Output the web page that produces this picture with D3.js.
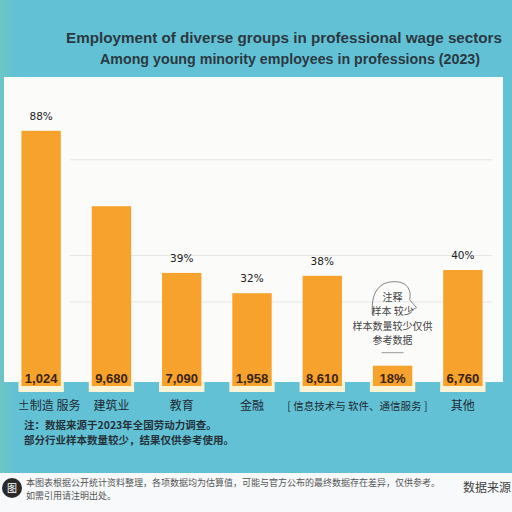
<!DOCTYPE html>
<html>
<head>
<meta charset="utf-8">
<script src="https://cdn.jsdelivr.net/npm/d3@7"></script>
<style>
  body { margin: 0; background: #63c1d6; }
  svg { display: block; }
</style>
</head>
<body>
<svg id="chart" width="512" height="512"></svg>
<script>
// chart data
const categories = ["制造 服务", "建筑业", "教育", "金融", "信息技术", "通信服务", "其他"];
const values = [88, 62, 39, 32, 38, 7, 40];
const topLabels = ["88%", "", "39%", "32%", "38%", "", "40%"];
const baseLabels = ["1,024", "9,680", "7,090", "1,958", "8,610", "18%", "6,760"];
// x-axis labels: the 5th one spans the 5th and 6th bars
const xLabels = ["±制造 服务", "建筑业", "教育", "金融", "[ 信息技术与 软件、通信服务 ]", "", "其他"];
const xLabelSpan = [1, 1, 1, 1, 2, 0, 1];
const gridValues = [29, 45, 78];
const titleLines = ["Employment of diverse groups in professional wage sectors", "Among young minority employees in professions (2023)"];
const noteLines = ["注：数据来源于2023年全国劳动力调查。", "部分行业样本数量较少，结果仅供参考使用。"];
const calloutLines = ["注释", "样本 较少", "样本数量较少仅供", "参考数据"];
const footerLines = ["本图表根据公开统计资料整理，各项数据均为估算值，可能与官方公布的最终数据存在差异，仅供参考。", "如需引用请注明出处。"];
const footerRight = "数据来源";

const svg = d3.select("#chart");
const W = 512, H = 512;

// background with a slight green tint on the left
const defs = svg.append("defs");
const bg = defs.append("linearGradient").attr("id", "bg").attr("x1", 0).attr("x2", 1).attr("y1", 0).attr("y2", 0);
bg.append("stop").attr("offset", "0%").attr("stop-color", "#6cc6c4");
bg.append("stop").attr("offset", "3%").attr("stop-color", "#63c1d6");
bg.append("stop").attr("offset", "100%").attr("stop-color", "#63c1d6");
svg.append("rect").attr("width", W).attr("height", H).attr("fill", "url(#bg)");

// title, stretched to the width it has in the picture
const titleBox = [{x: 284, len: 436}, {x: 290, len: 380}];
svg.selectAll(".title").data(titleLines).join("text")
  .attr("x", (d, i) => titleBox[i].x).attr("y", (d, i) => 43 + i * 21)
  .attr("text-anchor", "middle")
  .attr("textLength", (d, i) => titleBox[i].len)
  .attr("lengthAdjust", "spacingAndGlyphs")
  .attr("font-family", "Liberation Sans, Arial, sans-serif")
  .attr("font-weight", "bold")
  .attr("font-size", 14.5).attr("fill", "#2a3941")
  .text(d => d);

// white panel
svg.append("rect").attr("x", 4).attr("y", 77).attr("width", 499).attr("height", 305).attr("fill", "#fbfbfa");

const x = d3.scaleBand().domain(categories).range([6, 498]).paddingInner(0.44).paddingOuter(0.22);
const y = d3.scaleLinear().domain([0, 100]).range([386, 96]);
const cx = i => x(categories[i]) + x.bandwidth() / 2;

// gridlines
svg.selectAll(".grid").data(gridValues).join("line")
  .attr("x1", 70).attr("x2", 492)
  .attr("y1", d => y(d)).attr("y2", d => y(d))
  .attr("stroke", "#e3e5e6").attr("stroke-width", 1);

// pale base under each bar
svg.selectAll(".base").data(categories).join("rect")
  .attr("x", d => x(d) - 3).attr("width", x.bandwidth() + 6)
  .attr("y", 381).attr("height", 11)
  .attr("fill", "#fbf3d6");

// bars
svg.selectAll(".bar").data(values).join("rect")
  .attr("x", (d, i) => x(categories[i]))
  .attr("width", x.bandwidth())
  .attr("y", d => y(d))
  .attr("height", d => y(0) - y(d))
  .attr("fill", "#f6a22c");

// value labels above bars
svg.selectAll(".top").data(topLabels).join("text")
  .attr("x", (d, i) => cx(i))
  .attr("y", (d, i) => y(values[i]) - 11)
  .attr("text-anchor", "middle")
  .attr("font-family", "DejaVu Sans, sans-serif")
  .attr("font-size", 10.5).attr("fill", "#222")
  .text(d => d);

// labels inside bar bottoms
svg.selectAll(".inner").data(baseLabels).join("text")
  .attr("x", (d, i) => cx(i))
  .attr("y", 383)
  .attr("text-anchor", "middle")
  .attr("font-family", "Liberation Sans, Arial, sans-serif")
  .attr("font-weight", "bold")
  .attr("font-size", 13).attr("fill", "#3a2410")
  .text(d => d);

// category labels
svg.selectAll(".cat").data(xLabels).join("text")
  .attr("x", (d, i) => xLabelSpan[i] === 2 ? (cx(i) + cx(i + 1)) / 2 : cx(i) + (i === 0 ? 8 : 0))
  .attr("y", 410)
  .attr("text-anchor", "middle")
  .attr("font-family", "Noto Sans CJK SC, sans-serif")
  .attr("font-size", d => d.length > 8 ? 10.5 : 12).attr("fill", "#1e2b33")
  .text(d => d);

// callout over the small bar
const c6 = cx(5), t6 = y(values[5]);
svg.append("path")
  .attr("d", `M${c6 - 20},${t6 - 50} C${c6 - 22},${t6 - 70} ${c6 - 16},${t6 - 84} ${c6 + 2},${t6 - 84} C${c6 + 16},${t6 - 84} ${c6 + 19},${t6 - 74} ${c6 + 17},${t6 - 66} L${c6 + 24},${t6 - 58} L${c6 + 16},${t6 - 54}`)
  .attr("fill", "none").attr("stroke", "#666").attr("stroke-width", 0.8);
svg.selectAll(".callout").data(calloutLines).join("text")
  .attr("x", c6).attr("y", (d, i) => t6 - 65 + i * 14.5)
  .attr("text-anchor", "middle")
  .attr("font-family", "Noto Sans CJK SC, sans-serif")
  .attr("font-size", 10).attr("fill", "#444")
  .text(d => d);
svg.append("line")
  .attr("x1", c6 - 11).attr("x2", c6 + 11)
  .attr("y1", t6 - 13).attr("y2", t6 - 13)
  .attr("stroke", "#999").attr("stroke-width", 1);

// footnote
svg.selectAll(".note").data(noteLines).join("text")
  .attr("x", 24).attr("y", (d, i) => 429 + i * 15)
  .attr("font-family", "Noto Sans CJK SC, sans-serif")
  .attr("font-weight", "bold")
  .attr("font-size", 10.5).attr("fill", "#25323a")
  .text(d => d);

// bottom white band
svg.append("rect").attr("x", 0).attr("y", 473).attr("width", W).attr("height", 39).attr("fill", "#f7f9fa");
svg.append("circle").attr("cx", 12).attr("cy", 488).attr("r", 10).attr("fill", "#2a2a2a");
svg.append("text").attr("x", 12).attr("y", 492).attr("text-anchor", "middle")
  .attr("font-family", "Noto Sans CJK SC, sans-serif").attr("font-size", 10).attr("fill", "#fff").text("图");
svg.selectAll(".foot").data(footerLines).join("text")
  .attr("x", 26).attr("y", (d, i) => 486 + i * 13)
  .attr("font-family", "Noto Sans CJK SC, sans-serif")
  .attr("font-size", 9).attr("fill", "#555")
  .text(d => d);
svg.append("text").attr("x", 463).attr("y", 492)
  .attr("font-family", "Noto Sans CJK SC, sans-serif")
  .attr("font-size", 12).attr("fill", "#444").text(footerRight);
</script>
</body>
</html>
